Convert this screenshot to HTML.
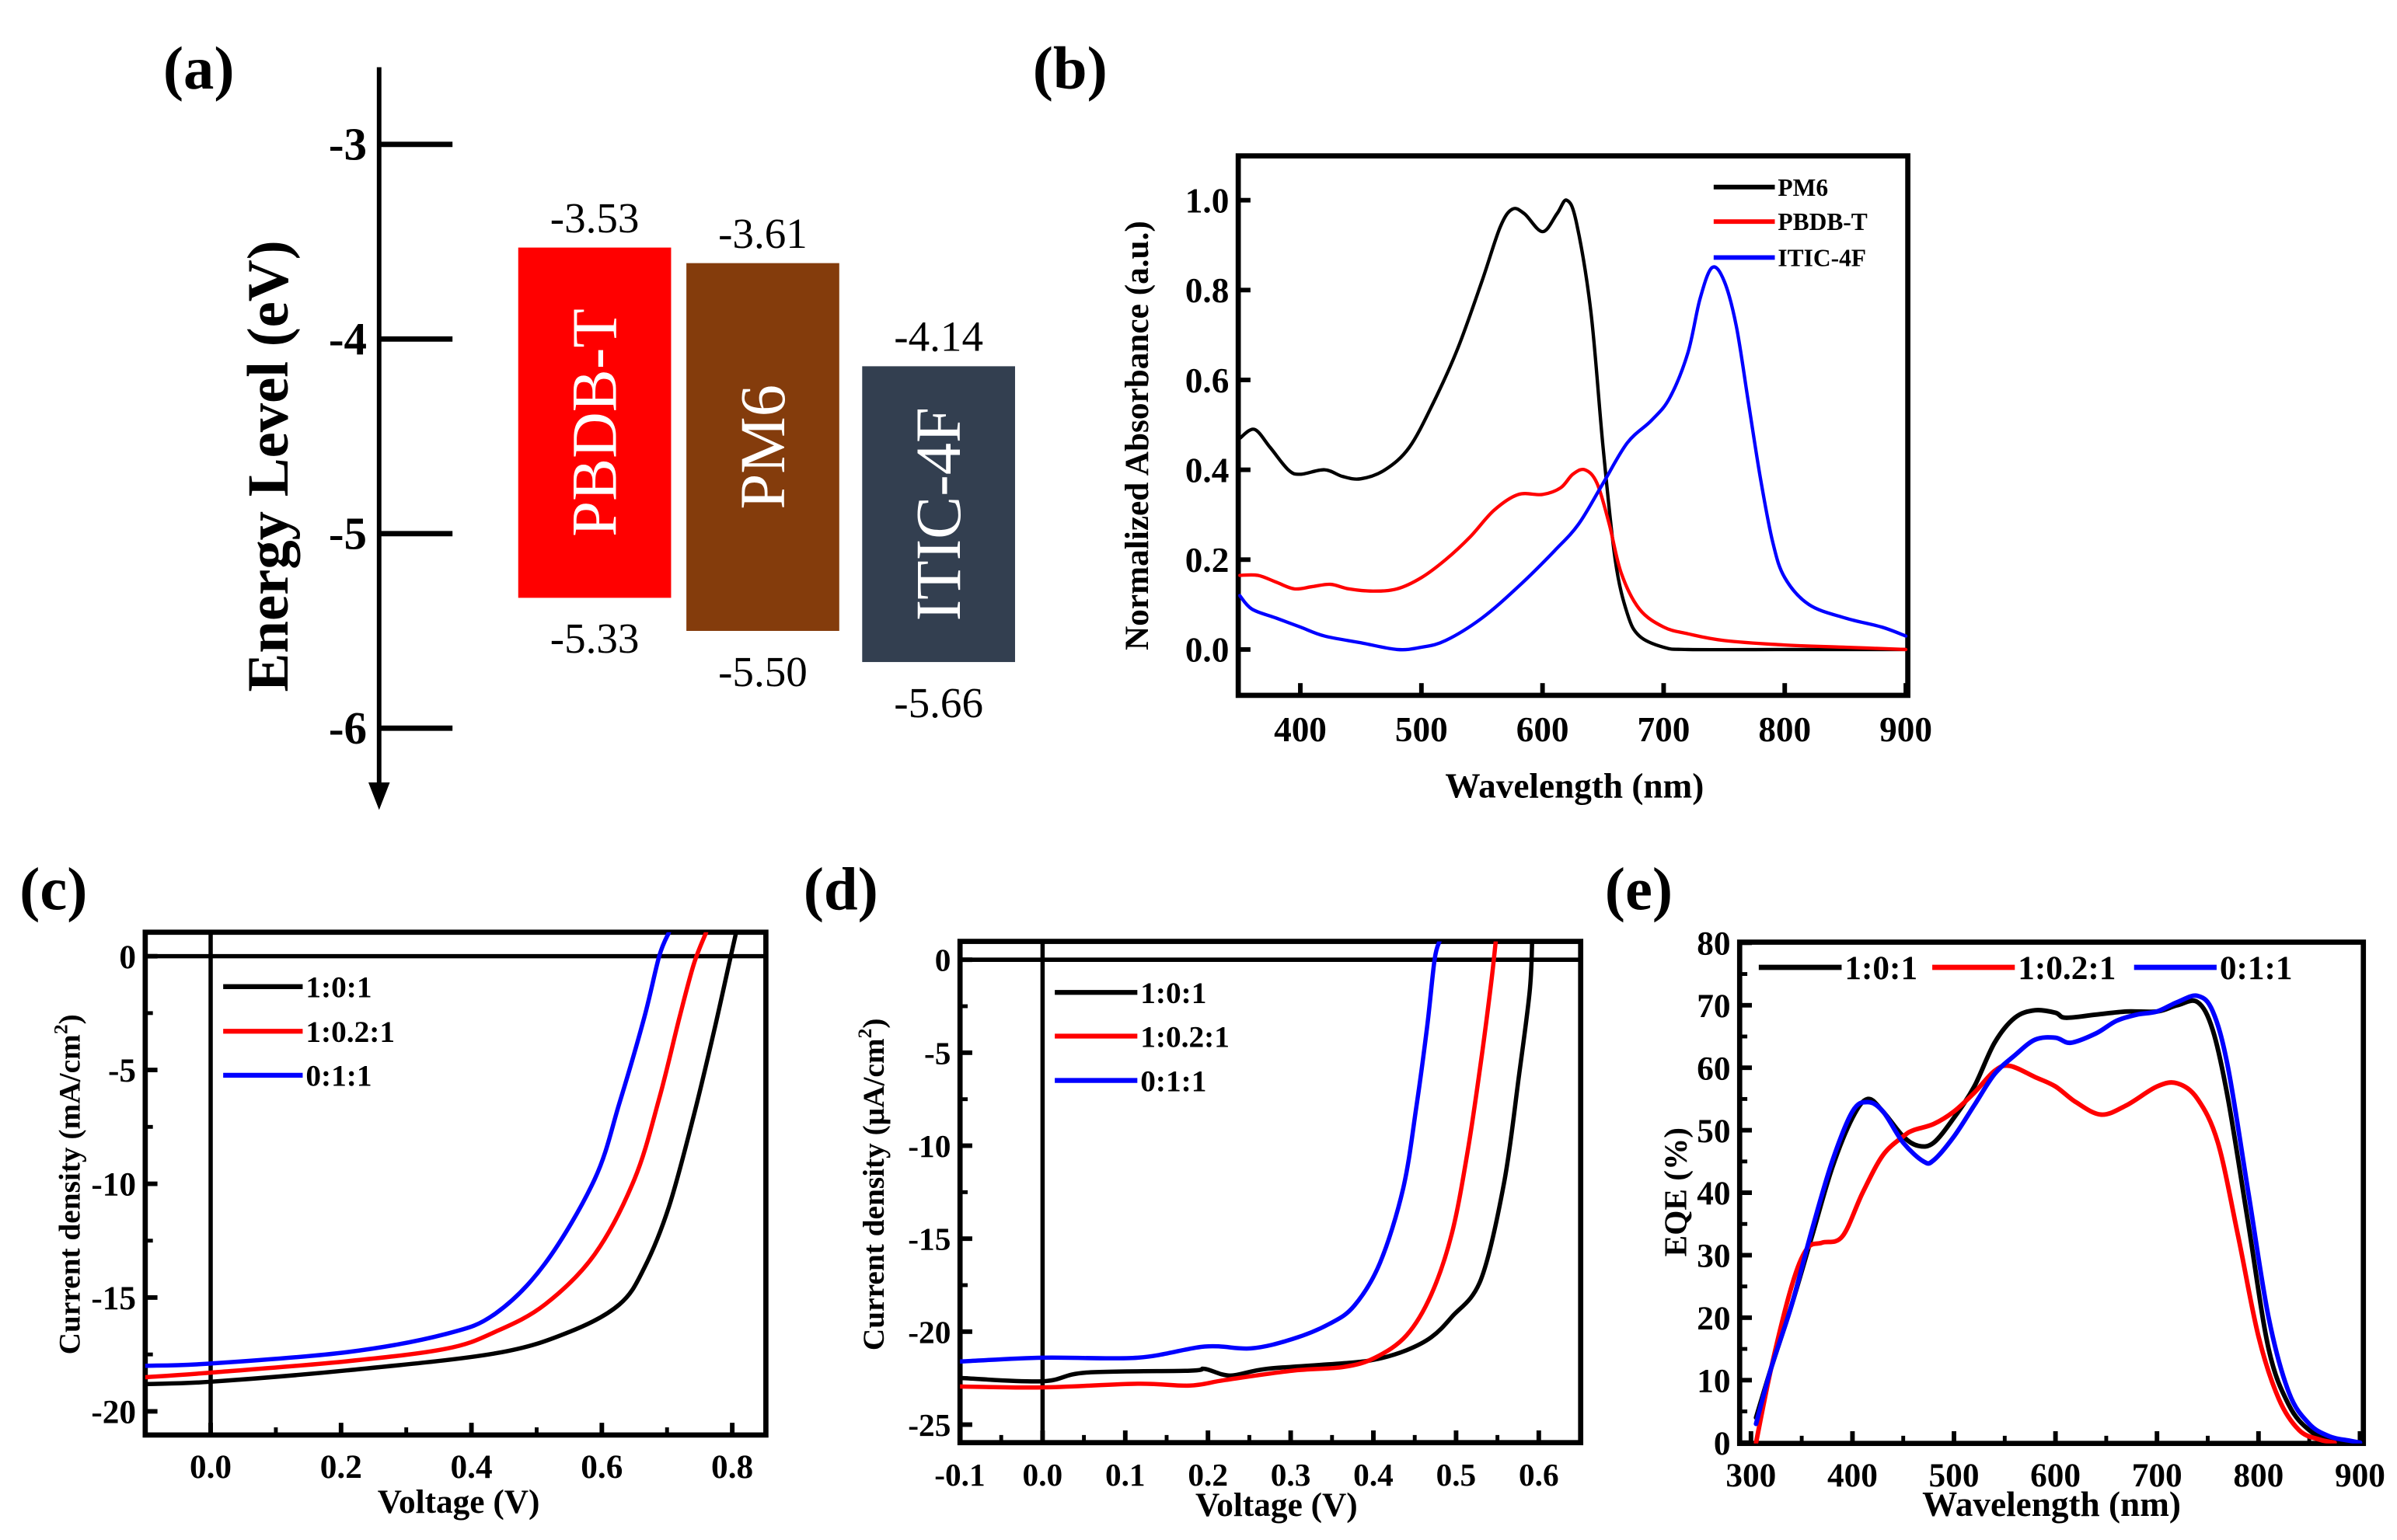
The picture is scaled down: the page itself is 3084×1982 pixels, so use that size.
<!DOCTYPE html>
<html><head><meta charset="utf-8"><style>
html,body{margin:0;padding:0;background:#fff;}
svg{display:block;}
text{font-family:"Liberation Serif",serif;}
</style></head><body>
<svg id="fig" width="3084" height="1982" viewBox="0 0 1568 1007.7" preserveAspectRatio="none" xmlns="http://www.w3.org/2000/svg">
<rect x="0" y="0" width="1568" height="1008" fill="#fff"/>
<g id="pa"></g>
<g id="pb"></g>
<g id="pc"></g>
<g id="pd"></g>
<g id="pe"></g>
</svg>
<script>
// ---- Panel (a) data ----
const aMaterials = ["PBDB-T","PM6","ITIC-4F"];
const aLumo = [-3.53,-3.61,-4.14];
const aHomo = [-5.33,-5.50,-5.66];
const aColors = ["#ff0000","#843c0c","#333f50"];
const aTicks = [-3,-4,-5,-6];
// ---- Panel (b) data ----
const bPM6x = [350,362,375,390,400,420,435,450,470,490,510,530,550,565,575,585,600,612,620,628,640,650,660,670,680,700,720,800,900];
const bPM6y = [0.47,0.49,0.45,0.40,0.39,0.40,0.385,0.38,0.40,0.45,0.55,0.67,0.82,0.94,0.98,0.97,0.93,0.97,1.0,0.95,0.75,0.45,0.2,0.08,0.03,0.005,0,0,0];
const bPBDBx = [350,365,380,395,410,425,440,460,480,500,520,540,560,580,600,615,625,635,645,655,665,680,700,720,750,800,850,900];
const bPBDBy = [0.165,0.165,0.15,0.135,0.14,0.145,0.135,0.13,0.135,0.16,0.2,0.25,0.31,0.345,0.345,0.36,0.39,0.40,0.37,0.28,0.17,0.09,0.05,0.035,0.02,0.01,0.005,0];
const bITICx = [350,360,380,400,420,450,480,500,520,550,580,610,630,650,670,690,705,720,730,740,750,760,770,780,790,800,820,850,880,900];
const bITICy = [0.12,0.09,0.07,0.05,0.03,0.015,0,0.005,0.02,0.07,0.14,0.22,0.28,0.37,0.46,0.51,0.56,0.66,0.78,0.85,0.82,0.72,0.55,0.38,0.24,0.16,0.1,0.07,0.05,0.03];
const bXTicks = [400,500,600,700,800,900];
const bYTicks = [0.0,0.2,0.4,0.6,0.8,1.0];
// ---- Panel (c) data ----
const cBlackV = [-0.1,-0.095,0,0.209,0.437,0.551,0.627,0.665,0.703,0.741,0.772,0.795,0.806];
const cBlackJ = [-18.85,-18.8,-18.7,-18.2,-17.45,-16.5,-15.3,-13.7,-11,-7,-3.3,-0.35,1.05];
const cRedV = [-0.1,0,0.209,0.361,0.437,0.513,0.589,0.650,0.688,0.719,0.741,0.760];
const cRedJ = [-18.5,-18.3,-17.8,-17.25,-16.5,-15.3,-13.1,-9.8,-6.25,-2.7,-0.35,1.05];
const cBlueV = [-0.1,0,0.209,0.361,0.437,0.513,0.589,0.627,0.665,0.688,0.703];
const cBlueJ = [-18.0,-17.9,-17.4,-16.6,-15.7,-13.5,-9.8,-6.45,-2.7,0,1.05];
const cXTicks = [0.0,0.2,0.4,0.6,0.8];
const cYTicks = [0,-5,-10,-15,-20];
// ---- Panel (d) data ----
const dBlackV = [-0.1,-0.097,0,0.053,0.178,0.196,0.227,0.271,0.364,0.402,0.44,0.47,0.495,0.53,0.558,0.576,0.589,0.592];
const dBlackJ = [-22.5,-22.5,-22.67,-22.2,-22.1,-22.0,-22.36,-22.0,-21.7,-21.5,-21.0,-20.3,-19.2,-17.2,-12,-6.25,-1.7,1.0];
const dRedV = [-0.1,-0.097,0,0.115,0.178,0.221,0.302,0.364,0.402,0.44,0.47,0.495,0.514,0.53,0.542,0.548];
const dRedJ = [-22.95,-22.95,-23.0,-22.8,-22.9,-22.6,-22.1,-21.9,-21.4,-20.2,-18.0,-14.7,-10.3,-5.5,-1.4,1.0];
const dBlueV = [-0.1,-0.097,0,0.115,0.196,0.252,0.302,0.346,0.377,0.408,0.436,0.452,0.465,0.474,0.48];
const dBlueJ = [-21.6,-21.6,-21.4,-21.4,-20.8,-20.9,-20.4,-19.6,-18.6,-16.3,-12.3,-7.9,-3.6,0,1.0];
const dXTicks = [-0.1,0.0,0.1,0.2,0.3,0.4,0.5,0.6];
const dYTicks = [0,-5,-10,-15,-20,-25];
// ---- Panel (e) data ----
const eBlackX = [305,320,340,360,380,400,415,430,450,465,480,500,520,540,560,580,600,610,640,670,700,720,740,755,770,790,810,830,850,870,900];
const eBlackY = [4,12,22,33,44,52,55,53,49,47.5,48,52,57,64,68,69.2,68.8,68,68.5,69,69,70,70.5,66,55,35,15,6,2,0.5,0];
const eRedX = [305,320,340,355,370,390,410,430,450,460,480,500,520,540,555,580,600,620,645,670,700,720,740,760,780,800,820,840,860,875];
const eRedY = [0,12,25,31,32,33,40,46,49,50,51,53,56,59.5,60.3,58.5,57,54.5,52.5,54,57,57.5,55,48,33,17,7,2,0.5,0];
const eBlueX = [305,320,340,360,380,400,415,430,450,470,480,500,520,540,560,580,600,615,640,660,680,700,720,740,755,770,790,810,830,850,870,890,900];
const eBlueY = [3,12,22,34,45,53,54.5,53,48,45,45.2,49,54,59,62,64.5,64.8,64,65.5,67.5,68.5,69,70.5,71.5,69,60,40,20,8,3,1,0.3,0];
const eXTicks = [300,400,500,600,700,800,900];
const eYTicks = [0,10,20,30,40,50,60,70,80];

const NS = "http://www.w3.org/2000/svg";
function mk(parent, tag, attrs, txt){
  const el = document.createElementNS(NS, tag);
  for (const k in attrs) el.setAttribute(k, attrs[k]);
  if (txt !== undefined) el.textContent = txt;
  parent.appendChild(el);
  return el;
}
function lin(d0,d1,r0,r1){ return v => r0 + (v-d0)*(r1-r0)/(d1-d0); }
function pathD(xs, ys, sx, sy){
  const P = xs.map((x,i)=>[sx(x), sy(ys[i])]);
  let d = 'M'+P[0][0].toFixed(2)+','+P[0][1].toFixed(2);
  for (let i=0;i<P.length-1;i++){
    const p0 = P[Math.max(i-1,0)], p1 = P[i], p2 = P[i+1], p3 = P[Math.min(i+2,P.length-1)];
    const c1x = p1[0]+(p2[0]-p0[0])/6, c1y = p1[1]+(p2[1]-p0[1])/6;
    const c2x = p2[0]-(p3[0]-p1[0])/6, c2y = p2[1]-(p3[1]-p1[1])/6;
    d += 'C'+c1x.toFixed(2)+','+c1y.toFixed(2)+' '+c2x.toFixed(2)+','+c2y.toFixed(2)+' '+p2[0].toFixed(2)+','+p2[1].toFixed(2);
  }
  return d;
}
function fmt1(v){ return v.toFixed(1); }

// ================= Panel (a) =================
(function(){
  const g = document.getElementById('pa');
  const sy = lin(-3,-6,94.5,476.5);
  let t = mk(g,'text',{x:130,y:58,'font-size':40,'font-weight':'bold','text-anchor':'middle'},'(a)');
   
  let ax = mk(g,'line',{x1:248,y1:44,x2:248,y2:518,stroke:'#000','stroke-width':3});
   
  let ar = mk(g,'polygon',{points:'241,512 255,512 248,530',fill:'#000'});
   
  aTicks.forEach(v=>{
    const y = sy(v);
    let l = mk(g,'line',{x1:248,y1:y,x2:296,y2:y,stroke:'#000','stroke-width':3.5});
     
    let tl = mk(g,'text',{x:240,y:y+10,'font-size':30,'font-weight':'bold','text-anchor':'end'},String(v));
     
  });
  let yl = mk(g,'text',{x:0,y:0,'font-size':38,'font-weight':'bold','text-anchor':'middle',transform:'translate(188,305) rotate(-90)'},'Energy Level (eV)');
   
  const bx = [339,449,564], bw = 100;
  aMaterials.forEach((m,i)=>{
    const y0 = sy(aLumo[i]), y1 = sy(aHomo[i]);
    let r = mk(g,'rect',{x:bx[i],y:y0,width:bw,height:y1-y0,fill:aColors[i]});
     
    const cx = bx[i]+bw/2;
    let n = mk(g,'text',{x:0,y:0,'font-size':42,fill:'#fff','text-anchor':'middle',transform:`translate(${cx+14},${(y0+y1)/2}) rotate(-90)`},m);
     
    let lu = mk(g,'text',{x:cx,y:y0-10,'font-size':28,'text-anchor':'middle'},aLumo[i].toFixed(2));
     
    let ho = mk(g,'text',{x:cx,y:y1+36,'font-size':28,'text-anchor':'middle'},aHomo[i].toFixed(2));
     
  });
})();

function framePlot(g, box, sx, sy, xt, yt, xfmt, yfmt, opts){
  const [L,T,R,B] = box;
  let f = mk(g,'rect',{x:L,y:T,width:R-L,height:B-T,fill:'none',stroke:'#000','stroke-width':3.4});
   
  xt.forEach(v=>{
    const x = sx(v);
    let l = mk(g,'line',{x1:x,y1:B,x2:x,y2:B-8,stroke:'#000','stroke-width':3});
     
    let t = mk(g,'text',{x:x,y:B+opts.xly,'font-size':opts.fs,'font-weight':'bold','text-anchor':'middle'},xfmt(v));
     
  });
  (opts.xminor||[]).forEach(v=>{
    const x = sx(v);
    let l = mk(g,'line',{x1:x,y1:B,x2:x,y2:B-5,stroke:'#000','stroke-width':2.5});
     
  });
  yt.forEach(v=>{
    const y = sy(v);
    let l = mk(g,'line',{x1:L,y1:y,x2:L+8,y2:y,stroke:'#000','stroke-width':3});
     
    let t = mk(g,'text',{x:L-6,y:y+opts.fs*0.35,'font-size':opts.fs,'font-weight':'bold','text-anchor':'end'},yfmt(v));
     
  });
  (opts.yminor||[]).forEach(v=>{
    const y = sy(v);
    let l = mk(g,'line',{x1:L,y1:y,x2:L+5,y2:y,stroke:'#000','stroke-width':2.5});
     
  });
}
function series(g, xs, ys, sx, sy, color, w, name, clip){
  let p = mk(g,'path',{d:pathD(xs,ys,sx,sy),fill:'none',stroke:color,'stroke-width':w,'stroke-linejoin':'round','stroke-linecap':'round'});
  if (clip) p.setAttribute('clip-path','url(#'+clip+')');
   
}
function clipRect(id, box){
  const defs = mk(document.getElementById('fig'),'clipPath',{id:id});
  mk(defs,'rect',{x:box[0],y:box[1],width:box[2]-box[0],height:box[3]-box[1]});
}
function legendRow(g, x1, x2, y, color, label, fs, w){
  let l = mk(g,'line',{x1:x1,y1:y,x2:x2,y2:y,stroke:color,'stroke-width':w});
   
  let t = mk(g,'text',{x:x2+2,y:y+fs*0.35,'font-size':fs,'font-weight':'bold'},label);
   
}
function label(g, x, y, s, fs, name, rot){
  let t = mk(g,'text',{x:0,y:0,'font-size':fs,'font-weight':'bold','text-anchor':'middle',transform:`translate(${x},${y})`+(rot?' rotate(-90)':'')},s);
   
  return t;
}

// ================= Panel (b) =================
(function(){
  const g = document.getElementById('pb');
  const box = [810,102,1248,455];
  const sx = lin(350,900,811,1246.7), sy = lin(0,1,425,131);
  clipRect('clipb', box);
  label(g,700,58,'(b)',40,'panel-b-label');
  framePlot(g, box, sx, sy, bXTicks, bYTicks, v=>String(v), fmt1, {fs:23, xly:30});
  series(g,bPM6x,bPM6y,sx,sy,'#000',2.2,'series-pm6','clipb');
  series(g,bPBDBx,bPBDBy,sx,sy,'#f00',2.2,'series-pbdb-t','clipb');
  series(g,bITICx,bITICy,sx,sy,'#00f',2.2,'series-itic-4f','clipb');
  legendRow(g,1121,1161,122.4,'#000','PM6',16,3);
  legendRow(g,1121,1161,145,'#f00','PBDB-T',16,3);
  legendRow(g,1121,1161,168.5,'#00f','ITIC-4F',16,3);
  label(g,751,285,'Normalized Absorbance (a.u.)',22,'y-axis-title',true);
  label(g,1030,522,'Wavelength (nm)',23,'x-axis-title');
})();

// ================= Panel (c) =================
(function(){
  const g = document.getElementById('pc');
  const box = [95,610,501,939];
  const sx = lin(0,0.8,137.8,479), sy = lin(0,-20,625.7,923.5);
  clipRect('clipc', box);
  label(g,35,595,'(c)',40,'panel-c-label');
  const xminor = [-0.1,0.1,0.3,0.5,0.7];
  const yminor = [-2.5,-7.5,-12.5,-17.5];
  framePlot(g, box, sx, sy, cXTicks, cYTicks, fmt1, v=>String(v), {fs:22, xly:28, xminor:xminor, yminor:yminor});
  let z1 = mk(g,'line',{x1:box[0],y1:sy(0),x2:box[2],y2:sy(0),stroke:'#000','stroke-width':2.8});
   
  let z2 = mk(g,'line',{x1:sx(0),y1:box[1],x2:sx(0),y2:box[3],stroke:'#000','stroke-width':2.8});
   
  series(g,cBlackV,cBlackJ,sx,sy,'#000',2.8,'series-1-0-1','clipc');
  series(g,cRedV,cRedJ,sx,sy,'#f00',2.8,'series-1-0.2-1','clipc');
  series(g,cBlueV,cBlueJ,sx,sy,'#00f',2.8,'series-0-1-1','clipc');
  legendRow(g,146,198,645.6,'#000','1:0:1',20,3.2);
  legendRow(g,146,198,674.8,'#f00','1:0.2:1',20,3.2);
  legendRow(g,146,198,703.6,'#00f','0:1:1',20,3.2);
  const yt = label(g,52,775,'',20,'y-axis-title',true);
  yt.textContent='Current density (mA/cm';
  mk(yt,'tspan',{'font-size':13,dy:-8},'2'); mk(yt,'tspan',{dy:8},')');
  label(g,300,990,'Voltage (V)',22,'x-axis-title');
})();

// ================= Panel (d) =================
(function(){
  const g = document.getElementById('pd');
  const box = [628,616,1034,944];
  const sx = lin(0,0.1,682,736.1), sy = lin(0,-25,628,932.2);
  clipRect('clipd', box);
  label(g,550,595,'(d)',40,'panel-d-label');
  const xminor = [-0.05,0.05,0.15,0.25,0.35,0.45,0.55];
  const yminor = [-2.5,-7.5,-12.5,-17.5,-22.5];
  framePlot(g, box, sx, sy, dXTicks, dYTicks, fmt1, v=>String(v), {fs:21, xly:28, xminor:xminor, yminor:yminor});
  let z1 = mk(g,'line',{x1:box[0],y1:sy(0),x2:box[2],y2:sy(0),stroke:'#000','stroke-width':2.8});
   
  let z2 = mk(g,'line',{x1:sx(0),y1:box[1],x2:sx(0),y2:box[3],stroke:'#000','stroke-width':2.8});
   
  series(g,dBlackV,dBlackJ,sx,sy,'#000',2.8,'series-1-0-1','clipd');
  series(g,dRedV,dRedJ,sx,sy,'#f00',2.8,'series-1-0.2-1','clipd');
  series(g,dBlueV,dBlueJ,sx,sy,'#00f',2.8,'series-0-1-1','clipd');
  legendRow(g,690,744,649.4,'#000','1:0:1',20,3.2);
  legendRow(g,690,744,678,'#f00','1:0.2:1',20,3.2);
  legendRow(g,690,744,707,'#00f','0:1:1',20,3.2);
  const yt = label(g,578,775,'',20,'y-axis-title',true);
  yt.textContent='Current density (μA/cm';
  mk(yt,'tspan',{'font-size':13,dy:-8},'2'); mk(yt,'tspan',{dy:8},')');
  label(g,835,992,'Voltage (V)',22,'x-axis-title');
})();

// ================= Panel (e) =================
(function(){
  const g = document.getElementById('pe');
  const box = [1138,616.5,1546,944.5];
  const sx = lin(300,900,1145.4,1543.8), sy = lin(0,80,944,616.9);
  clipRect('clipe', box);
  label(g,1072,595,'(e)',40,'panel-e-label');
  const xminor = [350,450,550,650,750,850];
  const yminor = [5,15,25,35,45,55,65,75];
  framePlot(g, box, sx, sy, eXTicks, eYTicks, v=>String(v), v=>String(v), {fs:22, xly:28, xminor:xminor, yminor:yminor});
  series(g,eBlackX,eBlackY,sx,sy,'#000',3,'series-1-0-1','clipe');
  series(g,eRedX,eRedY,sx,sy,'#f00',3,'series-1-0.2-1','clipe');
  series(g,eBlueX,eBlueY,sx,sy,'#00f',3,'series-0-1-1','clipe');
  legendRow(g,1150.5,1204.7,633,'#000','1:0:1',22,3.4);
  legendRow(g,1264,1318,633,'#f00','1:0.2:1',22,3.4);
  legendRow(g,1396,1450,633,'#00f','0:1:1',22,3.4);
  label(g,1103,780,'EQE (%)',21,'y-axis-title',true);
  label(g,1342,992,'Wavelength (nm)',23,'x-axis-title');
})();
</script>
</body></html>
